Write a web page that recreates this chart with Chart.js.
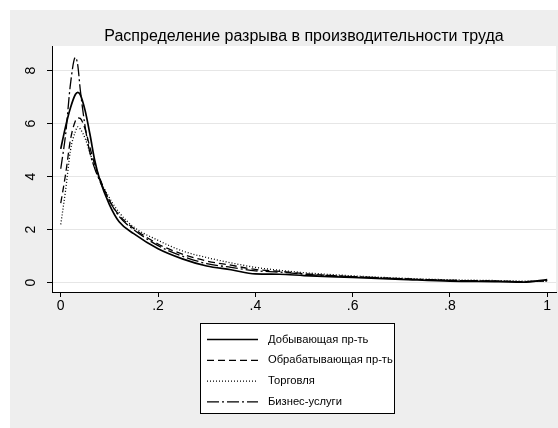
<!DOCTYPE html>
<html>
<head>
<meta charset="utf-8">
<script src="https://cdn.jsdelivr.net/npm/chart.js@4"></script>
<style>
  body { margin: 0; background: #fff; }
  canvas { display: block; }
</style>
</head>
<body>
<canvas id="chart" width="558" height="428"></canvas>
<script>
// Данные (оценены по картинке)
const titleText = 'Распределение разрыва в производительности труда';
const xValues = [0, 0.01, 0.02, 0.03, 0.035, 0.04, 0.05, 0.06, 0.07, 0.08, 0.1, 0.12, 0.15, 0.2, 0.25, 0.3, 0.35, 0.4, 0.45, 0.5, 0.6, 0.7, 0.8, 0.9, 0.95, 1.0];
const miningValues   = [5.05, 5.9, 6.6, 7.1, 7.18, 7.1, 6.5, 5.6, 4.6, 3.9, 2.95, 2.3, 1.85, 1.28, 0.9, 0.63, 0.49, 0.33, 0.32, 0.27, 0.2, 0.13, 0.06, 0.04, 0.02, 0.12];
const manufValues    = [3.0, 4.1, 5.4, 6.1, 6.22, 6.2, 5.8, 5.1, 4.45, 3.95, 3.1, 2.55, 2.05, 1.46, 1.08, 0.82, 0.66, 0.5, 0.43, 0.34, 0.23, 0.15, 0.09, 0.06, 0.04, 0.07];
const tradeValues    = [2.2, 3.5, 5.0, 5.7, 5.88, 5.8, 5.45, 4.9, 4.35, 3.9, 3.2, 2.65, 2.1, 1.6, 1.2, 0.95, 0.75, 0.58, 0.47, 0.38, 0.26, 0.17, 0.11, 0.08, 0.06, 0.05];
const businessValues = [4.3, 5.6, 7.5, 8.5, 8.2, 7.3, 5.9, 4.9, 4.3, 3.85, 3.1, 2.5, 2.0, 1.4, 1.0, 0.72, 0.58, 0.45, 0.4, 0.32, 0.23, 0.15, 0.09, 0.06, 0.04, 0.08];
const seriesLabels = ['Добывающая пр-ть', 'Обрабатывающая пр-ть', 'Торговля', 'Бизнес-услуги'];
const xTickValues = [0, 0.2, 0.4, 0.6, 0.8, 1];
const xTickLabels = ['0', '.2', '.4', '.6', '.8', '1'];
const yTickValues = [0, 2, 4, 6, 8];
const yTickLabels = ['0', '2', '4', '6', '8'];

const FONT = 'Arial, "Liberation Sans", sans-serif';

function toPoints(values) {
    return values.map((v, i) => ({ x: xValues[i], y: v }));
}

// Фон, заголовок, подписи оси Y и легенда рисуются плагином
const stataFrame = {
    id: 'stataFrame',
    beforeDraw(chart) {
        const ctx = chart.ctx;
        const a = chart.chartArea;
        ctx.save();
        ctx.fillStyle = '#ffffff';
        ctx.fillRect(0, 0, chart.width, chart.height);
        ctx.fillStyle = '#eeeeee';
        ctx.fillRect(10, 10, chart.width - 10, chart.height - 10);
        ctx.fillStyle = '#ffffff';
        ctx.fillRect(a.left, a.top, a.right - a.left, a.bottom - a.top);
        ctx.restore();
    },
    afterDraw(chart) {
        const ctx = chart.ctx;
        const a = chart.chartArea;
        ctx.save();
        // заголовок
        ctx.fillStyle = '#000';
        ctx.font = '16px ' + FONT;
        ctx.textAlign = 'center';
        ctx.textBaseline = 'alphabetic';
        ctx.fillText(titleText, (a.left + a.right) / 2, 41);

        // подписи оси Y (повернуты)
        const yScale = chart.scales.y;
        ctx.font = '14px ' + FONT;
        yScale.ticks.forEach((t, i) => {
            const y = yScale.getPixelForValue(t.value);
            ctx.save();
            ctx.translate(35, y);
            ctx.rotate(-Math.PI / 2);
            ctx.textAlign = 'center';
            ctx.fillText(yTickLabels[i], 0, 0);
            ctx.restore();
        });

        // легенда
        const box = { x: 200.5, y: 323.5, w: 194, h: 90 };
        ctx.fillStyle = '#fff';
        ctx.fillRect(box.x, box.y, box.w, box.h);
        ctx.strokeStyle = '#000';
        ctx.lineWidth = 1;
        ctx.strokeRect(box.x, box.y, box.w, box.h);
        ctx.font = '11.2px ' + FONT;
        ctx.textAlign = 'left';
        ctx.textBaseline = 'middle';
        chart.data.datasets.forEach((ds, i) => {
            const y = 339.5 + i * 20.8;
            ctx.save();
            ctx.strokeStyle = '#000';
            ctx.lineWidth = ds.borderWidth;
            ctx.setLineDash(ds.borderDash || []);
            ctx.beginPath();
            ctx.moveTo(207, y);
            ctx.lineTo(258, y);
            ctx.stroke();
            ctx.restore();
            ctx.fillStyle = '#000';
            ctx.fillText(ds.label, 268, y);
        });
        ctx.restore();
    }
};

const ctx = document.getElementById('chart').getContext('2d');

new Chart(ctx, {
    type: 'line',
    data: {
        datasets: [
            {label: seriesLabels[0], data: toPoints(miningValues), borderColor: '#000', borderWidth: 1.7, borderDash: []},
            {label: seriesLabels[1], data: toPoints(manufValues), borderColor: '#000', borderWidth: 1.3, borderDash: [7, 4]},
            {label: seriesLabels[2], data: toPoints(tradeValues), borderColor: '#000', borderWidth: 1.3, borderDash: [1, 2]},
            {label: seriesLabels[3], data: toPoints(businessValues), borderColor: '#000', borderWidth: 1.3, borderDash: [12, 3, 2, 3]}
        ]
    },
    options: {
        responsive: false,
        animation: false,
        elements: {
            point: { radius: 0 },
            line: { cubicInterpolationMode: 'monotone', fill: false }
        },
        layout: {
            padding: { left: 10, right: 2, top: 46, bottom: 106 }
        },
        scales: {
            x: {
                type: 'linear',
                min: -0.018,
                max: 1.018,
                afterBuildTicks: scale => { scale.ticks = xTickValues.map(v => ({ value: v })); },
                afterFit: scale => { scale.height = 30; },
                grid: { drawOnChartArea: false, drawTicks: true, tickLength: 5, tickColor: '#000' },
                border: { display: true, color: '#000', width: 1 },
                ticks: {
                    color: '#000',
                    padding: 1,
                    maxRotation: 0,
                    font: { family: FONT, size: 14 },
                    callback: (value, index) => xTickLabels[index]
                }
            },
            y: {
                type: 'linear',
                min: -0.35,
                max: 8.93,
                afterBuildTicks: scale => { scale.ticks = yTickValues.map(v => ({ value: v })); },
                afterFit: scale => { scale.width = 42; },
                grid: { color: '#e6e6e6', lineWidth: 1, drawTicks: true, tickLength: 5, tickColor: '#000' },
                border: { display: true, color: '#000', width: 1 },
                ticks: { display: false }
            }
        },
        plugins: {
            legend: { display: false },
            title: { display: false },
            tooltip: { enabled: false }
        }
    },
    plugins: [stataFrame]
});
</script>
</body>
</html>
